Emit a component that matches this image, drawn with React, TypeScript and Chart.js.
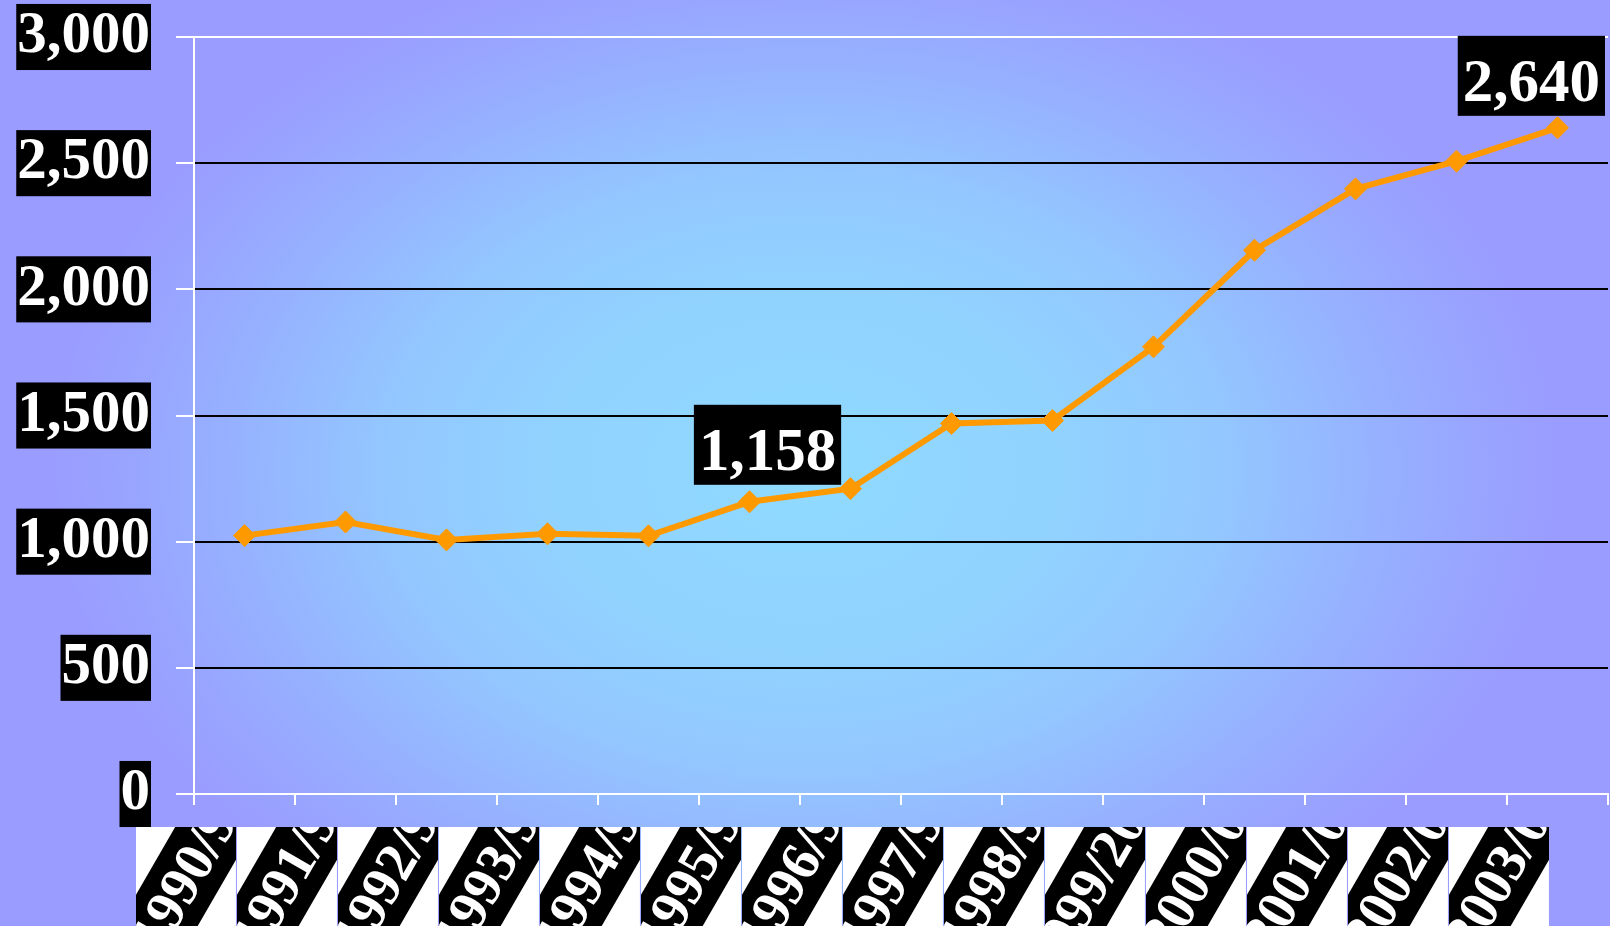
import React, { useEffect, useRef } from "react";
import { Chart, registerables } from "chart.js";

Chart.register(...registerables);

const categories = [
  "1990/91", "1991/92", "1992/93", "1993/94", "1994/95", "1995/96", "1996/97",
  "1997/98", "1998/99", "1999/2000", "2000/01", "2001/02", "2002/03", "2003/04",
];
const values = [1024, 1078, 1007, 1031, 1023, 1158, 1210, 1468, 1480, 1772, 2155, 2398, 2508, 2640];
const yTicks = [0, 500, 1000, 1500, 2000, 2500, 3000];
const labelIndices = [5, 13];

const SERIF = '"Liberation Serif", "Times New Roman", serif';

const bgPlugin = {
  id: "bgGradient",
  beforeDraw(chart: any) {
    const { ctx, width, height } = chart;
    const cx = 805, cy = 470, rx = 760, ry = 540;
    const sx = rx / ry;
    ctx.save();
    ctx.translate(cx, cy);
    ctx.scale(sx, 1);
    const g = ctx.createRadialGradient(0, 0, 0, 0, 0, ry);
    g.addColorStop(0, "rgb(143,218,255)");
    g.addColorStop(0.35, "rgb(145,210,255)");
    g.addColorStop(0.55, "rgb(147,199,255)");
    g.addColorStop(0.75, "rgb(150,178,255)");
    g.addColorStop(0.87, "rgb(152,166,255)");
    g.addColorStop(1, "rgb(154,156,255)");
    ctx.fillStyle = g;
    ctx.fillRect(-cx / sx - 2, -cy - 2, width / sx + 4, height + 4);
    ctx.restore();
  },
};

const xLabelPlugin = {
  id: "xLabelBoxes",
  afterDraw(chart: any) {
    const { ctx, height } = chart;
    const xs = chart.scales.x;
    const n = categories.length;
    const catW = xs.width / n;
    for (let i = 0; i < n; i++) {
      const cx = xs.getPixelForValue(i) - catW * 0.575;
      const left = cx - catW / 2;
      const w = catW - 1;
      const top = xs.top + 33;
      const h = height - top;
      ctx.save();
      ctx.beginPath();
      ctx.rect(left, top, w, h);
      ctx.clip();
      ctx.fillStyle = "#ffffff";
      ctx.fillRect(left, top, w, h);
      ctx.translate(cx, top + h / 2);
      ctx.rotate(-Math.PI / 3);
      ctx.fillStyle = "#000000";
      ctx.fillRect(-220, -34.5, 440, 69);
      ctx.fillStyle = "#ffffff";
      ctx.font = `bold 56px ${SERIF}`;
      ctx.textAlign = "center";
      ctx.textBaseline = "middle";
      ctx.fillText(categories[i], 10, 3);
      ctx.restore();
    }
  },
};

const dataLabelPlugin = {
  id: "boxedDataLabels",
  afterDatasetsDraw(chart: any, _args: any, opts: any) {
    const meta = chart.getDatasetMeta(0);
    const ctx = chart.ctx;
    ctx.save();
    ctx.font = `bold 61px ${SERIF}`;
    labelIndices.forEach((idx, k) => {
      const pt = meta.data[idx];
      const text = values[idx].toLocaleString("en-US");
      const tw = ctx.measureText(text).width;
      const bw = tw + 10;
      const bh = 80;
      const off = (opts.offsets && opts.offsets[k]) || { dx: 0, gap: 15 };
      let cx = pt.x + off.dx;
      const right = chart.width - 5;
      if (cx + bw / 2 > right) cx = right - bw / 2;
      const bottom = pt.y - off.gap;
      ctx.fillStyle = "#000000";
      ctx.fillRect(cx - bw / 2, bottom - bh, bw, bh);
      ctx.fillStyle = "#ffffff";
      ctx.textAlign = "center";
      ctx.textBaseline = "alphabetic";
      ctx.fillText(text, cx, bottom - 15);
    });
    ctx.restore();
  },
};

export default function App() {
  const canvasRef = useRef<HTMLCanvasElement | null>(null);

  useEffect(() => {
    document.body.style.margin = "0";
    const canvas = canvasRef.current;
    if (!canvas) return;
    const chart = new Chart(canvas, {
      type: "line",
      data: {
        labels: categories,
        datasets: [
          {
            data: values,
            borderColor: "#FF9900",
            backgroundColor: "#FF9900",
            borderWidth: 6,
            pointStyle: "rectRot",
            pointRadius: 11,
            pointBackgroundColor: "#FF9900",
            pointBorderColor: "#FF9900",
            pointBorderWidth: 1,
            tension: 0,
            clip: false as any,
          },
        ],
      },
      options: {
        responsive: false,
        animation: false,
        devicePixelRatio: 1,
        layout: { autoPadding: false, padding: { top: 37, right: 2, left: 0, bottom: 0 } },
        plugins: {
          legend: { display: false },
          tooltip: { enabled: false },
          boxedDataLabels: {
            offsets: [
              { dx: 18, gap: 17 },
              { dx: 0, gap: 12 },
            ],
          },
        } as any,
        scales: {
          x: {
            type: "category",
            offset: true,
            grid: {
              offset: true,
              drawOnChartArea: false,
              drawTicks: true,
              tickLength: 11,
              color: "#ffffff",
              lineWidth: 2,
            },
            border: { color: "#ffffff", width: 2 },
            ticks: { display: false },
            afterFit: (s: any) => {
              s.height = 132;
            },
          },
          y: {
            min: 0,
            max: 3000,
            afterBuildTicks: (s: any) => {
              s.ticks = yTicks.map((v) => ({ value: v }));
            },
            ticks: {
              color: "#ffffff",
              font: { family: SERIF, size: 59, weight: "bold", lineHeight: 1.12 },
              padding: 26,
              showLabelBackdrop: true,
              backdropColor: "#000000",
              backdropPadding: { x: 1, y: 0 },
              callback: (v: any) => Number(v).toLocaleString("en-US"),
            } as any,
            grid: {
              color: (c: any) =>
                c.tick && (c.tick.value === 3000 || c.tick.value === 0) ? "#ffffff" : "#000000",
              tickColor: "#ffffff",
              lineWidth: 2,
              tickLength: 18,
              drawTicks: true,
            },
            border: { color: "#ffffff", width: 2 },
            afterFit: (s: any) => {
              s.width = 194;
              s.paddingTop = 0;
              s.paddingBottom = 0;
            },
          },
        },
      },
      plugins: [bgPlugin, dataLabelPlugin, xLabelPlugin],
    });
    return () => chart.destroy();
  }, []);

  return (
    <div style={{ width: 1610, height: 926 }}>
      <canvas ref={canvasRef} width={1610} height={926} />
    </div>
  );
}
